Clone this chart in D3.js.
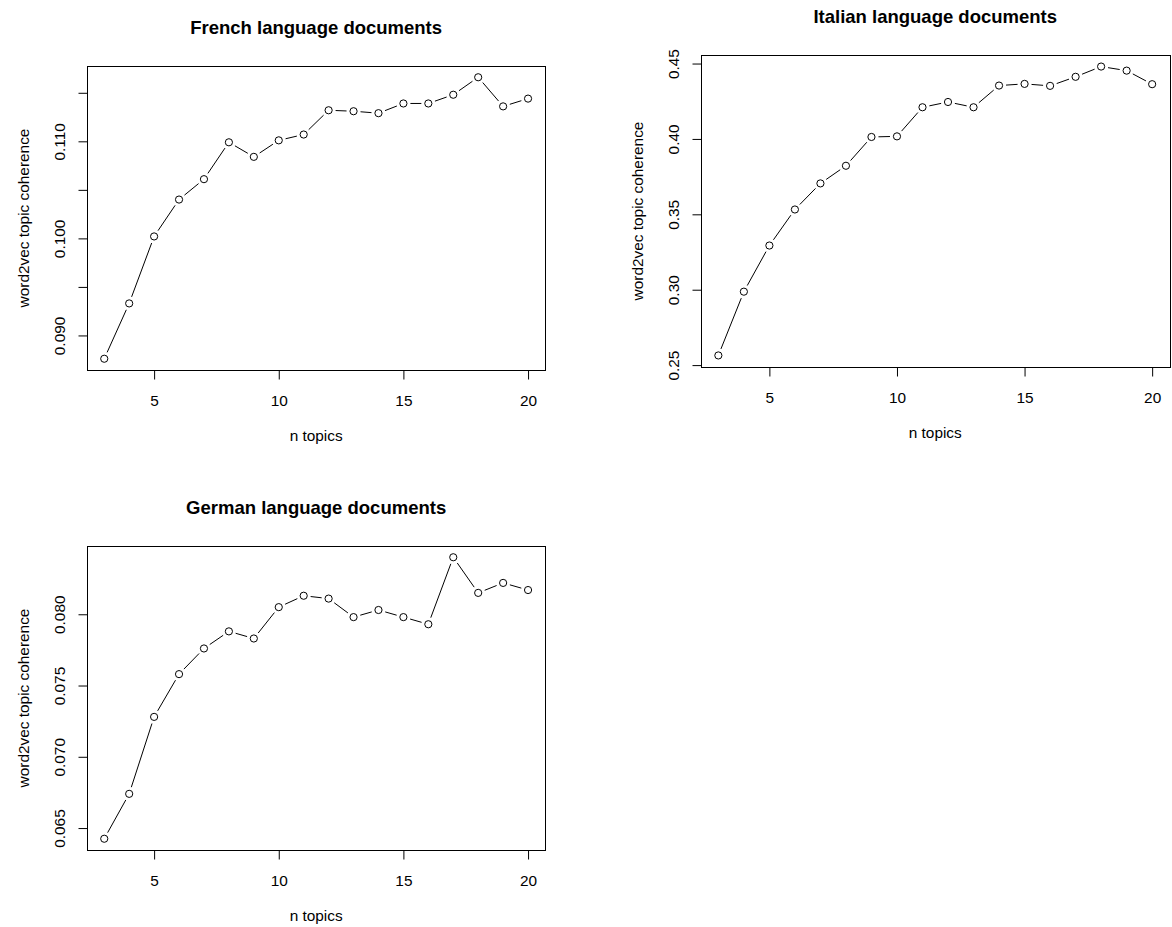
<!DOCTYPE html>
<html>
<head>
  <meta charset="utf-8">
  <style>
    body { margin: 0; background: white; }
    svg { display: block; font-family: "Liberation Sans", Arial, Helvetica, sans-serif; }
    .axis path.domain { display: none; }
    .axis line { stroke: black; stroke-width: 1; }
    .axis text { fill: black; font-size: 15.4px; }
  </style>
</head>
<body>
  <svg id="chart"></svg>
  <script src="https://cdn.jsdelivr.net/npm/d3@7"></script>
  <script>
    var width = 1172, height = 927;

    // data
    var nTopics = [3, 4, 5, 6, 7, 8, 9, 10, 11, 12, 13, 14, 15, 16, 17, 18, 19, 20];
    var french = [0.0876, 0.0933, 0.1002, 0.1040, 0.1061, 0.1099, 0.1084, 0.1101, 0.1107,
                  0.1132, 0.1131, 0.1129, 0.1139, 0.1139, 0.1148, 0.1166, 0.1136, 0.1144];
    var italian = [0.2564, 0.2987, 0.3293, 0.3532, 0.3705, 0.3822, 0.4013, 0.4017, 0.4210,
                   0.4245, 0.4210, 0.4354, 0.4365, 0.4352, 0.4412, 0.4480, 0.4453, 0.4363];
    var german = [0.06425, 0.0674, 0.0728, 0.0758, 0.0776, 0.0788, 0.0783, 0.0805, 0.0813,
                  0.0811, 0.0798, 0.0803, 0.0798, 0.0793, 0.0840, 0.0815, 0.0822, 0.0817];

    // ticks
    var xTicks = [5, 10, 15, 20];
    var frenchYTicks = [0.090, 0.095, 0.100, 0.105, 0.110, 0.115];
    var frenchYLabels = ["0.090", "", "0.100", "", "0.110", ""];
    var italianYTicks = [0.25, 0.30, 0.35, 0.40, 0.45];
    var italianYLabels = ["0.25", "0.30", "0.35", "0.40", "0.45"];
    var germanYTicks = [0.065, 0.070, 0.075, 0.080];
    var germanYLabels = ["0.065", "0.070", "0.075", "0.080"];

    var titles = ["French language documents", "Italian language documents", "German language documents"];
    var xTitle = "n topics";
    var yTitle = "word2vec topic coherence";

    var svg = d3.select("#chart").attr("width", width).attr("height", height);

    // R style axis range: data extent +4% on both sides
    function rRange(vals) {
      var ext = d3.extent(vals);
      var pad = (ext[1] - ext[0]) * 0.04;
      return [ext[0] - pad, ext[1] + pad];
    }

    function drawPanel(box, title, values, yTicks, yLabels) {
      var g = svg.append("g");
      var x = d3.scaleLinear().domain(rRange(nTopics)).range([box.left, box.right]);
      var y = d3.scaleLinear().domain(rRange(values)).range([box.bottom, box.top]);

      // frame
      g.append("rect")
        .attr("x", Math.round(box.left) + 0.5)
        .attr("y", Math.round(box.top) + 0.5)
        .attr("width", Math.round(box.right) - Math.round(box.left))
        .attr("height", Math.round(box.bottom) - Math.round(box.top))
        .attr("fill", "none")
        .attr("stroke", "black");

      // x axis
      g.append("g")
        .attr("class", "axis")
        .attr("transform", "translate(0," + (Math.round(box.bottom) + 0.5) + ")")
        .call(d3.axisBottom(x).tickValues(xTicks).tickSize(9).tickSizeOuter(0).tickFormat(d3.format("d")))
        .selectAll("text")
        .attr("y", 35).attr("dy", 0);

      // y axis, labels parallel to the axis
      var yAxis = g.append("g")
        .attr("class", "axis")
        .attr("transform", "translate(" + (Math.round(box.left) + 0.5) + ",0)")
        .call(d3.axisLeft(y).tickValues(yTicks).tickSize(9).tickSizeOuter(0)
          .tickFormat(function (d, i) { return yLabels[i]; }));
      yAxis.selectAll("text")
        .attr("x", 0).attr("dy", 0)
        .attr("text-anchor", "middle")
        .attr("transform", "translate(-23,0) rotate(-90)");

      // titles
      g.append("text")
        .attr("x", (box.left + box.right) / 2)
        .attr("y", box.top - 32)
        .attr("text-anchor", "middle")
        .attr("font-weight", "bold")
        .attr("font-size", "18.5px")
        .text(title);
      g.append("text")
        .attr("x", (box.left + box.right) / 2)
        .attr("y", box.bottom + 71)
        .attr("text-anchor", "middle")
        .attr("font-size", "15.4px")
        .text(xTitle);
      g.append("text")
        .attr("transform", "translate(" + (box.left - 58) + "," + ((box.top + box.bottom) / 2) + ") rotate(-90)")
        .attr("text-anchor", "middle")
        .attr("font-size", "15.4px")
        .text(yTitle);

      // line segments with gaps around the points (type = "b")
      var pts = nTopics.map(function (n, i) { return [x(n), y(values[i])]; });
      var gap = 7;
      var segs = [];
      for (var i = 0; i < pts.length - 1; i++) {
        var dx = pts[i + 1][0] - pts[i][0], dy = pts[i + 1][1] - pts[i][1];
        var len = Math.sqrt(dx * dx + dy * dy);
        if (len > 2 * gap) {
          var ux = dx / len, uy = dy / len;
          segs.push([pts[i][0] + ux * gap, pts[i][1] + uy * gap,
                     pts[i + 1][0] - ux * gap, pts[i + 1][1] - uy * gap]);
        }
      }
      g.append("g").selectAll("line")
        .data(segs)
        .join("line")
        .attr("x1", function (d) { return d[0]; })
        .attr("y1", function (d) { return d[1]; })
        .attr("x2", function (d) { return d[2]; })
        .attr("y2", function (d) { return d[3]; })
        .attr("stroke", "black")
        .attr("stroke-width", 1);

      g.append("g").selectAll("circle")
        .data(values)
        .join("circle")
        .attr("cx", function (d, i) { return x(nTopics[i]); })
        .attr("cy", function (d) { return y(d); })
        .attr("r", 3.6)
        .attr("fill", "none")
        .attr("stroke", "black")
        .attr("stroke-width", 1);
    }

    drawPanel({ left: 87.3, right: 545, top: 66, bottom: 370 }, titles[0], french, frenchYTicks, frenchYLabels);
    drawPanel({ left: 701, right: 1169.5, top: 55, bottom: 367 }, titles[1], italian, italianYTicks, italianYLabels);
    drawPanel({ left: 87.3, right: 545, top: 546, bottom: 850 }, titles[2], german, germanYTicks, germanYLabels);
  </script>
</body>
</html>
